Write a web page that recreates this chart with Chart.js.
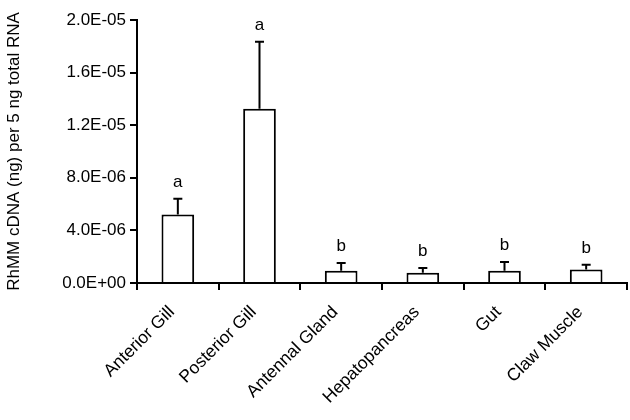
<!DOCTYPE html>
<html>
<head>
<meta charset="utf-8">
<script src="https://cdn.jsdelivr.net/npm/chart.js@4/dist/chart.umd.min.js"></script>
<style>
  html, body { margin: 0; padding: 0; background: #fff; }
  #wrap { width: 630px; height: 420px; }
</style>
</head>
<body>
<div id="wrap"><canvas id="myChart"></canvas></div>
<script>
const tissues = ["Anterior Gill", "Posterior Gill", "Antennal Gland", "Hepatopancreas", "Gut", "Claw Muscle"];
const meanValues = [5.2e-6, 1.325e-5, 0.94e-6, 0.77e-6, 0.94e-6, 1.02e-6];
const errorValues = [1.2e-6, 5.1e-6, 0.58e-6, 0.38e-6, 0.65e-6, 0.36e-6];
const groupLetters = ["a", "a", "b", "b", "b", "b"];

const fontFamily = "'Liberation Sans', Arial, sans-serif";

function sciLabel(v) {
  if (v === 0) return "0.0E+00";
  const parts = Number(v).toExponential(1).split("e");
  const exp = parseInt(parts[1], 10);
  const sign = exp < 0 ? "-" : "+";
  const digits = String(Math.abs(exp)).padStart(2, "0");
  return parts[0] + "E" + sign + digits;
}

// error bars (upper half only) plus the significance letters
const errorBars = {
  id: "errorBars",
  afterDatasetsDraw(chart) {
    const ctx = chart.ctx;
    const yScale = chart.scales.y;
    const meta = chart.getDatasetMeta(0);
    ctx.save();
    ctx.strokeStyle = "#000";
    ctx.lineWidth = 2;
    ctx.fillStyle = "#000";
    ctx.font = "17px " + fontFamily;
    ctx.textAlign = "center";
    ctx.textBaseline = "bottom";
    meta.data.forEach((bar, i) => {
      const yBase = yScale.getPixelForValue(meanValues[i]);
      const yTop = yScale.getPixelForValue(meanValues[i] + errorValues[i]);
      ctx.beginPath();
      ctx.moveTo(bar.x, yBase);
      ctx.lineTo(bar.x, yTop);
      ctx.moveTo(bar.x - 4.5, yTop);
      ctx.lineTo(bar.x + 4.5, yTop);
      ctx.stroke();
      ctx.fillText(groupLetters[i], bar.x, yTop - 8);
    });
    ctx.restore();
  }
};

const ctx = document.getElementById("myChart");
new Chart(ctx, {
  type: "bar",
  data: {
    labels: tissues,
    datasets: [
      {
        data: meanValues,
        backgroundColor: "#fff",
        borderColor: "#000",
        borderWidth: 2,
        borderSkipped: "start",
        barPercentage: 0.4,
        categoryPercentage: 1.0,
      },
    ],
  },
  options: {
    responsive: true,
    maintainAspectRatio: false,
    animation: false,
    devicePixelRatio: 1,
    layout: {
      padding: { top: 20, right: 3, left: 0, bottom: 0 },
    },
    scales: {
      y: {
        min: 0,
        max: 2e-5,
        afterFit: (scale) => { scale.width = 137; },
        ticks: {
          stepSize: 4e-6,
          color: "#000",
          padding: 4,
          font: { family: fontFamily, size: 17 },
          callback: (v) => sciLabel(v),
        },
        grid: {
          drawOnChartArea: false,
          drawTicks: true,
          tickLength: 7,
          color: "#000",
          lineWidth: 2,
        },
        border: { color: "#000", width: 2 },
        title: {
          display: true,
          text: "RhMM cDNA (ng) per 5 ng total RNA",
          color: "#000",
          font: { family: fontFamily, size: 17 },
          padding: { top: 4, bottom: 0 },
        },
      },
      x: {
        afterFit: (scale) => { scale.height = 137; },
        ticks: {
          color: "#000",
          minRotation: 45,
          maxRotation: 45,
          padding: 12,
          labelOffset: -6,
          font: { family: fontFamily, size: 17.5 },
        },
        grid: {
          offset: true,
          drawOnChartArea: false,
          drawTicks: true,
          tickLength: 7,
          color: "#000",
          lineWidth: 2,
        },
        border: { color: "#000", width: 2 },
      },
    },
    plugins: {
      legend: { display: false },
      tooltip: { enabled: false },
    },
  },
  plugins: [errorBars],
});
</script>
</body>
</html>
